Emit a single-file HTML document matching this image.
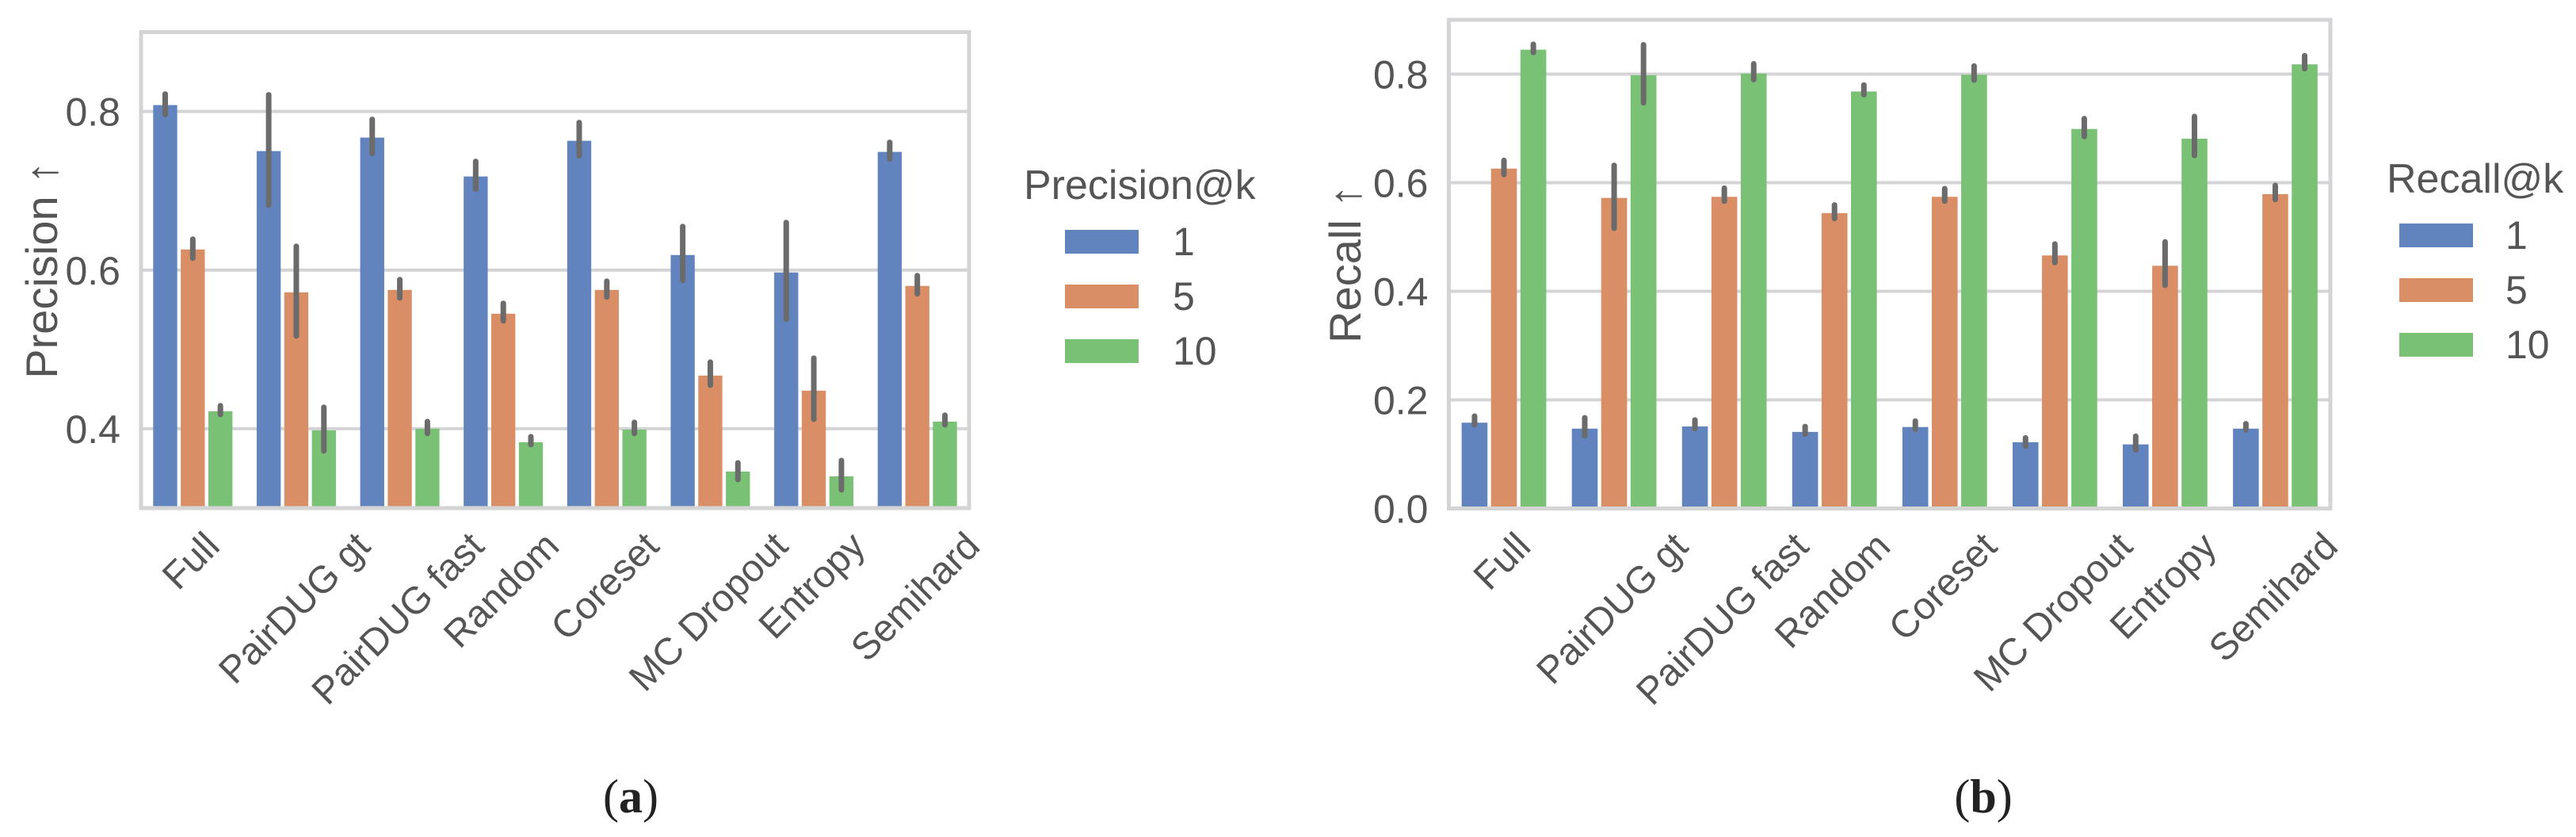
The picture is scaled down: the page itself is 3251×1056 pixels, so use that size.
<!DOCTYPE html>
<html>
<head>
<meta charset="utf-8">
<style>
  html,body{margin:0;padding:0;background:#fff;}
  svg{display:block;}
  text{font-family:"Liberation Sans",Arial,sans-serif;fill:#555;}
</style>
</head>
<body>
<svg id="fig" width="3251" height="1056" viewBox="0 0 3251 1056" xmlns="http://www.w3.org/2000/svg">
  <g id="panelA"></g>
  <g id="panelB"></g>
  <text x="796" y="1025" text-anchor="middle" style="font-family:'Liberation Serif',serif;font-size:60px;fill:#222">(<tspan font-weight="bold">a</tspan>)</text>
  <text x="2503" y="1025" text-anchor="middle" style="font-family:'Liberation Serif',serif;font-size:60px;fill:#222">(<tspan font-weight="bold">b</tspan>)</text>
</svg>
<script>
const categories = ["Full","PairDUG gt","PairDUG fast","Random","Coreset","MC Dropout","Entropy","Semihard"];
const kLabels = ["1","5","10"];
const seriesColors = ["#6183be","#d98e66","#79c175"];

// Precision@k values (k=1,5,10)
const precK1 = [0.808,0.750,0.767,0.718,0.763,0.619,0.597,0.749];
const precK5 = [0.626,0.572,0.575,0.545,0.575,0.467,0.448,0.580];
const precK10 = [0.422,0.398,0.400,0.383,0.399,0.346,0.340,0.409];
const precLo1 = [0.796,0.682,0.747,0.702,0.744,0.587,0.538,0.740];
const precHi1 = [0.822,0.821,0.790,0.737,0.786,0.655,0.660,0.761];
const precLo5 = [0.615,0.517,0.565,0.536,0.566,0.455,0.412,0.570];
const precHi5 = [0.639,0.630,0.588,0.558,0.586,0.484,0.489,0.593];
const precLo10 = [0.418,0.372,0.394,0.380,0.394,0.336,0.323,0.405];
const precHi10 = [0.429,0.427,0.409,0.390,0.408,0.357,0.360,0.417];
const precTicks = [0.4,0.6,0.8];

// Recall@k values (k=1,5,10)
const recK1 = [0.158,0.147,0.151,0.141,0.150,0.122,0.118,0.147];
const recK5 = [0.626,0.572,0.574,0.544,0.574,0.466,0.447,0.579];
const recK10 = [0.845,0.798,0.801,0.768,0.799,0.699,0.681,0.818];
const recLo1 = [0.154,0.134,0.147,0.137,0.146,0.115,0.108,0.145];
const recHi1 = [0.170,0.167,0.163,0.151,0.161,0.130,0.133,0.156];
const recLo5 = [0.615,0.516,0.566,0.534,0.566,0.453,0.411,0.569];
const recHi5 = [0.641,0.632,0.590,0.559,0.589,0.487,0.491,0.595];
const recLo10 = [0.840,0.747,0.790,0.762,0.789,0.685,0.650,0.810];
const recHi10 = [0.855,0.854,0.819,0.780,0.815,0.718,0.722,0.834];
const recTicks = [0.0,0.2,0.4,0.6,0.8];

const NS = "http://www.w3.org/2000/svg";
function mk(parent, tag, attrs){
  const e = document.createElementNS(NS, tag);
  for (const k in attrs) e.setAttribute(k, attrs[k]);
  parent.appendChild(e);
  return e;
}

function drawPanel(g, cfg){
  const {left,right,top,bottom,ymin,ymax,ticks,vals,lo,hi,ylabel,ylabelX,legTitle,legX,legTitleY,legSwX,legSwY0,legLabelX,key} = cfg;
  const n = categories.length;
  const cw = (right-left)/n;
  const yScale = v => bottom - (v-ymin)/(ymax-ymin)*(bottom-top);
  const xCenter = i => left + cw*(i+0.5);
  const slot = cw*0.8/3;
  const gap = 4.5;

  // grid
  ticks.forEach(t=>{
    const y = yScale(t);
    const gl = mk(g,'line',{x1:left,x2:right,y1:y,y2:y,stroke:'#d4d4d6','stroke-width':4});
    
    
    const tl = mk(g,'text',{x:left-26,y:y+18,'text-anchor':'end','font-size':50});
    tl.textContent = t.toFixed(1);
    
    
  });

  // bars
  for (let s=0;s<3;s++){
    for (let i=0;i<n;i++){
      const cx = xCenter(i) + (s-1)*slot;
      const y = yScale(vals[s][i]);
      const r = mk(g,'rect',{x:cx-slot/2+gap/2,y:y,width:slot-gap,height:bottom-y,fill:seriesColors[s]});
      
      
    }
  }
  // error bars
  for (let s=0;s<3;s++){
    for (let i=0;i<n;i++){
      const cx = xCenter(i) + (s-1)*slot;
      const el = mk(g,'line',{x1:cx,x2:cx,y1:yScale(lo[s][i]),y2:yScale(hi[s][i]),stroke:'#6b6b6b','stroke-width':7,'stroke-linecap':'round'});
      
      
    }
  }

  // frame
  const fr = mk(g,'rect',{x:left,y:top,width:right-left,height:bottom-top,fill:'none',stroke:'#d4d4d6','stroke-width':5});
  
  

  // x tick labels rotated 45
  categories.forEach((c,i)=>{
    const t = mk(g,'text',{'text-anchor':'middle','dominant-baseline':'central','font-size':48});
    t.textContent = c;
    
    
    const L = t.getComputedTextLength();
    const h = 36;
    const cx = xCenter(i) - 2;
    const cy = bottom + 27 + (L+h)*0.7071/2;
    t.setAttribute('x', cx);
    t.setAttribute('y', cy);
    t.setAttribute('transform','rotate(-45 '+cx+' '+cy+')');
  });

  // y label
  const yl = mk(g,'text',{'text-anchor':'middle','font-size':56});
  yl.textContent = ylabel;
  const ymid = (top+bottom)/2;
  yl.setAttribute('x', ylabelX);
  yl.setAttribute('y', ymid);
  yl.setAttribute('transform','rotate(-90 '+ylabelX+' '+ymid+')');
  
  

  // legend
  const lt = mk(g,'text',{x:legX,y:legTitleY,'font-size':52});
  lt.textContent = legTitle;
  
  
  for (let s=0;s<3;s++){
    const y0 = legSwY0 + s*69;
    const sw = mk(g,'rect',{x:legSwX,y:y0,width:93,height:30,fill:seriesColors[s]});
    
    
    const lb = mk(g,'text',{x:legLabelX,y:y0+32,'font-size':50});
    lb.textContent = kLabels[s];
    
    
  }
}

drawPanel(document.getElementById('panelA'), {
  key:'precision', left:178, right:1223, top:40.5, bottom:641, ymin:0.3, ymax:0.9,
  ticks:precTicks, vals:[precK1,precK5,precK10], lo:[precLo1,precLo5,precLo10], hi:[precHi1,precHi5,precHi10],
  ylabel:'Precision \u2191', ylabelX:72, legTitle:'Precision@k', legX:1292, legTitleY:251,
  legSwX:1344, legSwY0:290, legLabelX:1480
});
drawPanel(document.getElementById('panelB'), {
  key:'recall', left:1828.5, right:2941, top:25, bottom:641.5, ymin:0.0, ymax:0.9,
  ticks:recTicks, vals:[recK1,recK5,recK10], lo:[recLo1,recLo5,recLo10], hi:[recHi1,recHi5,recHi10],
  ylabel:'Recall \u2191', ylabelX:1717, legTitle:'Recall@k', legX:3012, legTitleY:243,
  legSwX:3028, legSwY0:282, legLabelX:3162
});
</script>
</body>
</html>
